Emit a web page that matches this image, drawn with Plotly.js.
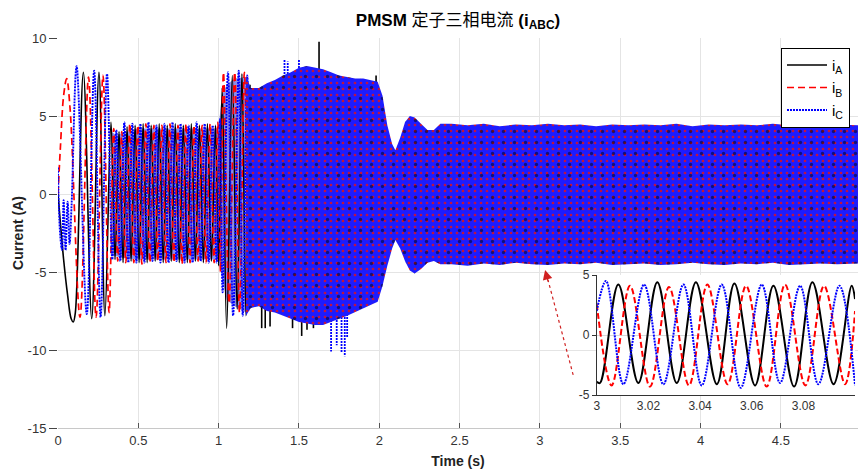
<!DOCTYPE html>
<html><head><meta charset="utf-8">
<script src="https://cdn.plot.ly/plotly-3.0.1.min.js"></script>
<style>html,body{margin:0;padding:0;background:#fff}#chart{width:858px;height:471px}</style>
</head><body><div id="chart"></div>
<script>
// ---- phase A (black) visible strokes, 0 - 1.2 s ----
const tA = [0, 0.012, 0.035, 0.06, 0.082, 0.095, 0.108, 0.158, 0.21, 0.255, 0.292, 0.33,
  0.355, 0.38, 0.405, 0.43, 0.455, 0.48, 0.505, 0.53, 0.555, 0.58, 0.605, 0.63, 0.655, 0.68, 0.705, 0.73, 0.755, 0.78, 0.805, 0.83, 0.855, 0.88, 0.905, 0.93, 0.955, 0.98,
  1.0, 1.022, 1.05, 1.085, 1.115, 1.145, 1.17, 1.195];
const vA = [0, -1.5, -4.2, -6.5, -8.0, -8.2, -7.6, 7.8, -8.0, 7.8, -7.8, 4.6,
  -4.2, 4.0, -4.4, 4.3, -4.3, 4.4, -4.4, 4.5, -4.4, 4.4, -4.3, 4.5, -4.4, 4.4, -4.3, 4.5, -4.4, 4.4, -4.4, 4.5, -4.3, 4.4, -4.4, 4.5, -4.3, 4.4,
  -4.6, 6.8, -8.6, 7.6, -7.4, 7.7, -7.8, 7.0];
// ---- phase B (red) ----
const tB = [0, 0.015, 0.035, 0.054, 0.075, 0.137, 0.19, 0.237, 0.28, 0.318,
  0.347, 0.372, 0.397, 0.422, 0.447, 0.472, 0.497, 0.522, 0.547, 0.572, 0.597, 0.622, 0.647, 0.672, 0.697, 0.722, 0.747, 0.772, 0.797, 0.822, 0.847, 0.872, 0.897, 0.922, 0.947, 0.972,
  0.995, 1.012, 1.03, 1.065, 1.1, 1.13, 1.16, 1.185];
const vB = [0, 3.0, 6.3, 7.4, 5.5, -7.9, 7.5, -7.9, 7.6, -7.6,
  4.2, -4.3, 4.0, -4.4, 4.5, -4.4, 4.4, -4.5, 4.5, -4.4, 4.4, -4.3, 4.4, -4.4, 4.5, -4.4, 4.4, -4.5, 4.5, -4.4, 4.4, -4.3, 4.4, -4.4, 4.5, -4.4,
  4.6, -5.0, 7.8, -7.0, 7.8, -7.6, 7.8, -7.5];
// ---- phase C (blue) ----
const tC = [0, 0.006, 0.015, 0.025, 0.035, 0.047, 0.06, 0.072, 0.085, 0.116, 0.179, 0.225, 0.265, 0.305,
  0.338, 0.363, 0.388, 0.413, 0.438, 0.463, 0.488, 0.513, 0.538, 0.563, 0.588, 0.613, 0.638, 0.663, 0.688, 0.713, 0.738, 0.763, 0.788, 0.813, 0.838, 0.863, 0.888, 0.913, 0.938, 0.963, 0.988,
  1.008, 1.025, 1.058, 1.09, 1.125, 1.15, 1.178, 1.2];
const vC = [1.7, -1.0, -2.8, -3.6, -0.4, -3.6, -0.5, -3.2, -0.6, 8.2, -7.7, 7.9, -7.9, 7.7,
  -4.2, 4.1, -4.3, 4.6, -4.4, 4.5, -4.4, 4.5, -4.4, 4.6, -4.3, 4.4, -4.4, 4.5, -4.4, 4.6, -4.3, 4.5, -4.4, 4.4, -4.4, 4.6, -4.3, 4.5, -4.4, 4.4, -4.4,
  4.8, -6.3, 7.8, -7.8, 7.9, -7.8, 7.6, -7.0];

// ---- overlap envelope behind the visible strokes, 0.33 - 1.17 s ----
const midT   = [0.33, 0.36, 0.4, 0.5, 0.6, 0.7, 0.8, 0.9, 0.98, 1.0, 1.02, 1.05, 1.1, 1.17];
const midTop = [4.0, 3.8, 3.9, 4.2, 4.2, 4.2, 4.2, 4.2, 4.2, 4.3, 6.3, 7.0, 7.4, 7.5];
const midBot = [-3.9, -4.0, -4.1, -4.2, -4.2, -4.2, -4.2, -4.2, -4.2, -4.3, -5.3, -6.8, -7.2, -7.6];

// ---- dense band envelope, 1.17 - 4.98 s ----
const bandT   = [1.17, 1.2, 1.25, 1.3, 1.35, 1.4, 1.45, 1.5, 1.55, 1.6, 1.65, 1.7, 1.75, 1.8, 1.85, 1.9, 1.95, 1.99, 2.02, 2.05, 2.08, 2.1, 2.13, 2.16, 2.19, 2.22, 2.26, 2.3, 2.34, 2.38,
  2.45, 2.55, 2.65, 2.75, 2.85, 2.95, 3.05, 3.15, 3.25, 3.35, 3.45, 3.55, 3.65, 3.75, 3.85, 3.95, 4.05, 4.15, 4.25, 4.35, 4.45, 4.55, 4.65, 4.75, 4.85, 4.98];
const bandTop = [7.6, 6.8, 6.8, 7.1, 7.3, 7.6, 7.8, 8.1, 8.2, 8.1, 8.0, 7.8, 7.6, 7.5, 7.4, 7.4, 7.3, 7.2, 6.3, 4.4, 3.2, 2.8, 3.6, 4.6, 5.0, 4.9, 4.5, 4.1, 4.1, 4.5,
  4.5, 4.4, 4.5, 4.35, 4.45, 4.4, 4.5, 4.4, 4.45, 4.35, 4.45, 4.4, 4.45, 4.4, 4.5, 4.35, 4.45, 4.4, 4.45, 4.4, 4.5, 4.4, 4.45, 4.4, 4.45, 4.4];
const bandBot = [-7.8, -7.3, -7.2, -7.5, -7.6, -7.8, -8.0, -8.2, -8.3, -8.4, -8.4, -8.2, -8.0, -7.8, -7.6, -7.3, -7.1, -6.9, -5.9, -4.6, -3.5, -2.95, -3.5, -4.3, -4.9, -5.1, -4.8, -4.4, -4.3, -4.5,
  -4.5, -4.6, -4.45, -4.55, -4.4, -4.5, -4.55, -4.45, -4.5, -4.4, -4.55, -4.5, -4.45, -4.55, -4.5, -4.4, -4.5, -4.55, -4.45, -4.5, -4.4, -4.55, -4.5, -4.45, -4.5, -4.45];

// ---- isolated spikes ----
const spikeAT = [1.268, 1.29, 1.32, 1.46, 1.517, 1.55, 1.59, 1.625, 1.98];
const spikeAV = [-8.6, -8.6, -8.5, -8.6, -9.1, -8.7, -8.6, 9.76, 7.6];
const spikeCT = [1.41, 1.43, 1.5, 1.70, 1.735, 1.765, 1.785, 1.80];
const spikeCV = [8.6, 8.5, 8.6, -10.1, -9.7, -10.2, -10.4, -9.2];

// ---- inset 3.0 - 3.1 s ----
const insAt = [3.0, 3.00128, 3.00837, 3.01612, 3.02346, 3.03098, 3.0384, 3.0465, 3.0533, 3.0613, 3.0684, 3.0764, 3.0835, 3.0917, 3.0987, 3.1];
const insAv = [-3.9, -4.0, 4.2, -4.0, 4.4, -4.0, 4.4, -4.1, 4.3, -4.2, 4.1, -4.3, 4.4, -4.1, 4.1, 3.0];
const insBt = [3.0, 3.00578, 3.01289, 3.02063, 3.02799, 3.03572, 3.04283, 3.05069, 3.05781, 3.06579, 3.0729, 3.08077, 3.0880, 3.09613, 3.1];
const insBv = [2.6, -4.2, 4.1, -4.3, 4.0, -4.2, 4.2, -4.1, 4.1, -4.3, 4.2, -4.2, 4.1, -4.1, 2.0];
const insCt = [3.0, 3.0036, 3.01032, 3.01833, 3.02581, 3.03356, 3.04065, 3.0484, 3.05575, 3.06389, 3.07097, 3.07873, 3.08581, 3.09396, 3.1];
const insCv = [2.0, 4.5, -4.1, 4.2, -4.1, 4.2, -4.2, 4.2, -4.4, 4.2, -4.0, 4.1, -4.1, 4.1, -4.2];

// ---- ticks ----
const xTickVals = [0, 0.5, 1, 1.5, 2, 2.5, 3, 3.5, 4, 4.5];
const xTickText = ['0', '0.5', '1', '1.5', '2', '2.5', '3', '3.5', '4', '4.5'];
const yTickVals = [-15, -10, -5, 0, 5, 10];
const yTickText = ['-15', '-10', '-5', '0', '5', '10'];
const inXVals = [3, 3.02, 3.04, 3.06, 3.08, 3.1];
const inXText = ['3', '3.02', '3.04', '3.06', '3.08', '3.'];
const inYVals = [-5, 0, 5];
const inYText = ['-5', '0', '5'];

const names = ['i<sub>A</sub>', 'i<sub>B</sub>', 'i<sub>C</sub>'];
const cA = '#000000', cB = '#ff0000', cC = '#0000ff';
const dashB = '7px,4px', dashC = '2px,1px';

function spikes(ts, vs) {
  const x = [], y = [];
  ts.forEach((t, i) => { x.push(t, t, null); y.push(0, vs[i], null); });
  return {x, y};
}
function poly(ts, top, bot) {
  return {x: ts.concat(ts.slice().reverse()), y: top.concat(bot.slice().reverse())};
}
const sA = spikes(spikeAT, spikeAV);
const sC = spikes(spikeCT, spikeCV);
const band = poly(bandT, bandTop, bandBot);
const mid = poly(midT, midTop, midBot);

const traces = [
  {x: mid.x, y: mid.y, type: 'scatter', mode: 'lines', fill: 'toself', showlegend: false, hoverinfo: 'skip',
   line: {width: 0}, fillcolor: 'rgba(45,45,215,0.55)'},
  {x: tA, y: vA, type: 'scatter', mode: 'lines', name: names[0], line: {color: cA, width: 1.6, shape: 'spline'}},
  {x: sA.x, y: sA.y, type: 'scatter', mode: 'lines', showlegend: false, hoverinfo: 'skip', line: {color: cA, width: 1.6}},
  {x: tB, y: vB, type: 'scatter', mode: 'lines', name: names[1], line: {color: cB, width: 1.7, dash: dashB, shape: 'spline'}},
  {x: tC, y: vC, type: 'scatter', mode: 'lines', name: names[2], line: {color: cC, width: 1.9, dash: dashC, shape: 'spline'}},
  {x: sC.x, y: sC.y, type: 'scatter', mode: 'lines', showlegend: false, hoverinfo: 'skip', line: {color: cC, width: 1.8, dash: dashC}},
  {x: band.x, y: band.y, type: 'scatter', mode: 'lines', fill: 'toself', showlegend: false, hoverinfo: 'skip',
   line: {width: 0}, fillcolor: '#1c1cff',
   fillpattern: {shape: '.', bgcolor: '#1c1cff', fgcolor: '#e81010', fgopacity: 0.8, size: 6, solidity: 0.16}},
  {x: band.x, y: band.y, type: 'scatter', mode: 'lines', fill: 'toself', showlegend: false, hoverinfo: 'skip',
   line: {width: 0}, fillcolor: 'rgba(0,0,0,0)',
   fillpattern: {shape: '.', bgcolor: 'rgba(0,0,0,0)', fgcolor: '#000000', fgopacity: 0.5, size: 11, solidity: 0.07}},
  // inset
  {x: insAt, y: insAv, xaxis: 'x2', yaxis: 'y2', type: 'scatter', mode: 'lines', showlegend: false, line: {color: cA, width: 2, shape: 'spline'}},
  {x: insBt, y: insBv, xaxis: 'x2', yaxis: 'y2', type: 'scatter', mode: 'lines', showlegend: false, line: {color: cB, width: 2, dash: '6px,3px', shape: 'spline'}},
  {x: insCt, y: insCv, xaxis: 'x2', yaxis: 'y2', type: 'scatter', mode: 'lines', showlegend: false, line: {color: cC, width: 2, dash: dashC, shape: 'spline'}}
];

const layout = {
  width: 858, height: 471,
  margin: {l: 58, r: 0, t: 38, b: 43},
  paper_bgcolor: '#ffffff', plot_bgcolor: '#ffffff',
  font: {family: 'Liberation Sans, Arial, Noto Sans CJK SC, sans-serif', size: 13, color: '#333'},
  title: {
    text: '<b>PMSM</b> 定子三相电流 <b>(i<sub>ABC</sub>)</b>',
    xref: 'paper', x: 0.5, xanchor: 'center',
    yref: 'container', y: 0.958, yanchor: 'middle',
    font: {size: 17, color: '#000', family: 'Liberation Sans, Noto Sans CJK SC, sans-serif'}
  },
  xaxis: {
    range: [0, 4.98], tickvals: xTickVals, ticktext: xTickText,
    showgrid: true, gridcolor: '#e4e4e4', gridwidth: 1, zeroline: false,
    showline: true, linecolor: '#c8c8c8', linewidth: 1,
    ticks: 'inside', ticklen: 5, tickcolor: '#555',
    tickfont: {size: 13, color: '#333'},
    title: {text: '<b>Time (s)</b>', font: {size: 14, color: '#222'}, standoff: 9}
  },
  yaxis: {
    range: [-15, 10], tickvals: yTickVals, ticktext: yTickText,
    showgrid: true, gridcolor: '#e4e4e4', gridwidth: 1, zeroline: false,
    showline: false, ticks: 'outside', ticklen: 8, tickcolor: '#444',
    tickfont: {size: 13, color: '#333'},
    title: {text: '<b>Current (A)</b>', font: {size: 14, color: '#222'}, standoff: 0}
  },
  xaxis2: {
    domain: [0.6734, 0.9963], anchor: 'y2', range: [3, 3.1],
    tickvals: inXVals, ticktext: inXText, showgrid: false, zeroline: false,
    showline: true, linecolor: '#333', linewidth: 1, ticks: '',
    tickfont: {size: 12, color: '#333'}
  },
  yaxis2: {
    domain: [0.0846, 0.3923], anchor: 'x2', range: [-5, 5],
    tickvals: inYVals, ticktext: inYText, showgrid: false,
    zeroline: true, zerolinecolor: '#d8d8d8', zerolinewidth: 1,
    showline: true, linecolor: '#333', linewidth: 1, ticks: 'outside', ticklen: 4, tickcolor: '#333',
    tickfont: {size: 12, color: '#333'}
  },
  legend: {
    x: 0.99, xanchor: 'right', y: 0.975, yanchor: 'top',
    bgcolor: '#ffffff', bordercolor: '#000', borderwidth: 1,
    font: {size: 15, color: '#000'}, itemwidth: 40
  },
  shapes: [
    {type: 'rect', xref: 'x2 domain', yref: 'y2 domain', x0: -0.035, x1: 1.02, y0: 0, y1: 1,
     fillcolor: '#ffffff', line: {width: 0}, layer: 'below'},
    {type: 'line', xref: 'x', yref: 'y', x0: 3.207, y0: -11.6, x1: 3.05, y1: -5.5,
     line: {color: '#d02020', width: 1.2, dash: 'dot'}}
  ],
  annotations: [
    {x: 3.032, y: -4.87, xref: 'x', yref: 'y', text: '', showarrow: true,
     ax: 3.5, ay: 13, axref: 'pixel', ayref: 'pixel',
     arrowhead: 2, arrowsize: 1.6, arrowwidth: 1.2, arrowcolor: '#d02020'}
  ]
};

Plotly.newPlot('chart', traces, layout, {displayModeBar: false, staticPlot: true});
</script></body></html>
